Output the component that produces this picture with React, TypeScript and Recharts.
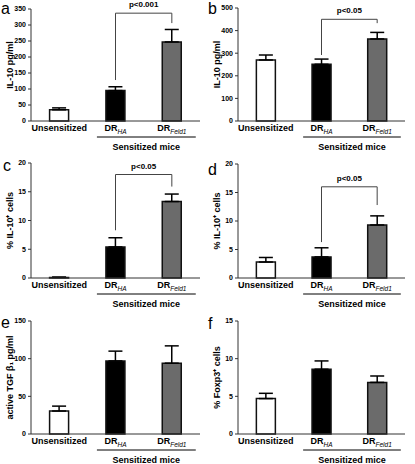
import React from 'react';
import { BarChart, Bar, XAxis, YAxis, Cell, ErrorBar, ReferenceLine } from 'recharts';

const groups = ['Unsensitized', 'DRHA', 'DRFeld1'];
const barFills = ['#ffffff', '#000000', '#6b6b6b'];

// a: IL-10 pg/ml
const il10A = [35, 95, 247];
const il10AErr = [6, 12, 39];
const ticksA = [0, 50, 100, 150, 200, 250, 300, 350];
// b: IL-10 pg/ml
const il10B = [270, 251, 363];
const il10BErr = [22, 23, 29];
const ticksB = [0, 100, 200, 300, 400, 500];
// c: % IL-10+ cells
const il10CellsC = [0.1, 5.4, 13.3];
const il10CellsCErr = [0.05, 1.6, 1.3];
const ticksC = [0, 5, 10, 15, 20];
// d: % IL-10+ cells
const il10CellsD = [2.8, 3.7, 9.3];
const il10CellsDErr = [0.8, 1.6, 1.6];
const ticksD = [0, 5, 10, 15, 20];
// e: active TGF b1 pg/ml
const tgfE = [30.5, 97, 94];
const tgfEErr = [6.5, 13, 23];
const ticksE = [0, 50, 100, 150];
// f: % Foxp3+ cells
const foxp3F = [4.7, 8.6, 6.85];
const foxp3FErr = [0.7, 1.1, 0.85];
const ticksF = [0, 5, 10, 15];

// significance brackets: [top, left leg end, right leg end]
const bracketA = [337, 128, 306];
const bracketB = [450, 292, 433];
const bracketC = [18, 8.3, 15.9];
const bracketD = [16, 6.3, 12.8];

const font = '"Liberation Sans", Arial, sans-serif';

const toRows = (vals: number[], errs: number[]) =>
  groups.map((name, i) => ({ name, value: vals[i], err: [0, errs[i]] }));

const GroupTick = (props: any) => {
  const { x, y, payload } = props;
  const v = payload.value as string;
  const half = payload.offset || 28;
  const base = y + 10;
  let label: React.ReactNode = v;
  if (v.startsWith('DR')) {
    label = (
      <>
        <tspan>DR</tspan>
        <tspan dy={2.5} fontSize={6.5} fontStyle="italic" fontWeight="normal">
          {v.slice(2)}
        </tspan>
      </>
    );
  }
  const start = x - 2.66 * half;
  const end = x + 0.85 * half;
  return (
    <g>
      <text x={x} y={base} textAnchor="middle" fontSize={9} fontWeight="bold" fill="#000" fontFamily={font}>
        {label}
      </text>
      {v === 'DRFeld1' && (
        <>
          <line x1={start} x2={end} y1={y + 16} y2={y + 16} stroke="#000" strokeWidth={1} />
          <text x={(start + end) / 2} y={y + 28.5} textAnchor="middle" fontSize={9} fontWeight="bold" fill="#000" fontFamily={font}>
            Sensitized mice
          </text>
        </>
      )}
    </g>
  );
};

interface PanelProps {
  letter: string;
  yLabel: string;
  vals: number[];
  errs: number[];
  ticks: number[];
  bracket?: number[];
  pText?: string;
  left: number;
  top: number;
  width: number;
  height: number;
  mt: number;
  ph: number;
  mr: number;
  letterTop: number;
}

const Panel = (p: PanelProps) => {
  const data = toRows(p.vals, p.errs);
  const max = p.ticks[p.ticks.length - 1];
  const lineStyle = { stroke: '#333', strokeWidth: 1 };
  return (
    <div style={{ position: 'absolute', left: p.left, top: p.top, width: p.width, height: p.height }}>
      <div style={{ position: 'absolute', left: p.letter === 'c' ? 3 : 1, top: p.letterTop, fontFamily: font, fontSize: 16, lineHeight: 'normal', color: '#000' }}>
        {p.letter}
      </div>
      <BarChart
        width={p.width}
        height={p.height}
        data={data}
        margin={{ top: p.mt, right: p.mr, bottom: 0, left: 7 }}
        barCategoryGap="33%"
      >
        <XAxis
          dataKey="name"
          type="category"
          interval={0}
          tickLine={false}
          tickSize={0}
          tickMargin={0}
          axisLine={lineStyle}
          height={p.height - p.mt - p.ph}
          tick={(t: any) => <GroupTick {...t} />}
        />
        <YAxis
          type="number"
          domain={[0, max]}
          ticks={p.ticks}
          interval={0}
          width={24}
          tickSize={3}
          tickMargin={2}
          axisLine={lineStyle}
          tickLine={lineStyle}
          tick={{ fontSize: 7, fontWeight: 'bold', fill: '#000', fontFamily: font }}
          label={{
            value: p.yLabel,
            angle: -90,
            position: 'insideLeft',
            offset: 3,
            style: { textAnchor: 'middle', fontSize: 9, fontWeight: 'bold', fill: '#000', fontFamily: font },
          }}
        />
        <Bar dataKey="value" stroke="#111" strokeWidth={1.5} isAnimationActive={false}>
          {data.map((d, i) => (
            <Cell key={d.name} fill={barFills[i]} />
          ))}
          <ErrorBar dataKey="err" direction="y" width={7} stroke="#000" strokeWidth={1.5} isAnimationActive={false} />
        </Bar>
        {p.bracket && (
          <ReferenceLine
            segment={[{ x: 'DRHA', y: p.bracket[1] }, { x: 'DRHA', y: p.bracket[0] }]}
            stroke="#444"
            strokeWidth={1}
            ifOverflow="visible"
          />
        )}
        {p.bracket && (
          <ReferenceLine
            segment={[{ x: 'DRFeld1', y: p.bracket[2] }, { x: 'DRFeld1', y: p.bracket[0] }]}
            stroke="#444"
            strokeWidth={1}
            ifOverflow="visible"
          />
        )}
        {p.bracket && (
          <ReferenceLine
            segment={[{ x: 'DRHA', y: p.bracket[0] }, { x: 'DRFeld1', y: p.bracket[0] }]}
            stroke="#444"
            strokeWidth={1}
            ifOverflow="visible"
            label={{
              value: p.pText,
              position: 'top',
              offset: 6,
              style: { fontSize: 8, fontWeight: 'bold', fill: '#000', fontFamily: font },
            }}
          />
        )}
      </BarChart>
    </div>
  );
};

const App = () => {
  return (
    <div style={{ position: 'absolute', left: 0, top: 0, width: 415, height: 464, background: '#fff', overflow: 'hidden' }}>
      <Panel letter="a" yLabel="IL-10 pg/ml" vals={il10A} errs={il10AErr} ticks={ticksA} bracket={bracketA} pText="p<0.001"
        left={0} top={0} width={207} height={155} mt={9} ph={112} mr={7} letterTop={0} />
      <Panel letter="b" yLabel="IL-10 pg/ml" vals={il10B} errs={il10BErr} ticks={ticksB} bracket={bracketB} pText="p<0.05"
        left={207} top={0} width={208} height={155} mt={8} ph={113} mr={10} letterTop={0} />
      <Panel letter="c" yLabel="% IL-10⁺ cells" vals={il10CellsC} errs={il10CellsCErr} ticks={ticksC} bracket={bracketC} pText="p<0.05"
        left={0} top={155} width={207} height={155} mt={8} ph={115} mr={7} letterTop={2} />
      <Panel letter="d" yLabel="% IL-10⁺ cells" vals={il10CellsD} errs={il10CellsDErr} ticks={ticksD} bracket={bracketD} pText="p<0.05"
        left={207} top={155} width={208} height={155} mt={9} ph={114} mr={10} letterTop={6} />
      <Panel letter="e" yLabel="active TGF β₁ pg/ml" vals={tgfE} errs={tgfEErr} ticks={ticksE}
        left={0} top={310} width={207} height={154} mt={11} ph={113} mr={7} letterTop={4} />
      <Panel letter="f" yLabel="% Foxp3⁺ cells" vals={foxp3F} errs={foxp3FErr} ticks={ticksF}
        left={207} top={310} width={208} height={154} mt={11} ph={113} mr={10} letterTop={5} />
    </div>
  );
};

export default App;
